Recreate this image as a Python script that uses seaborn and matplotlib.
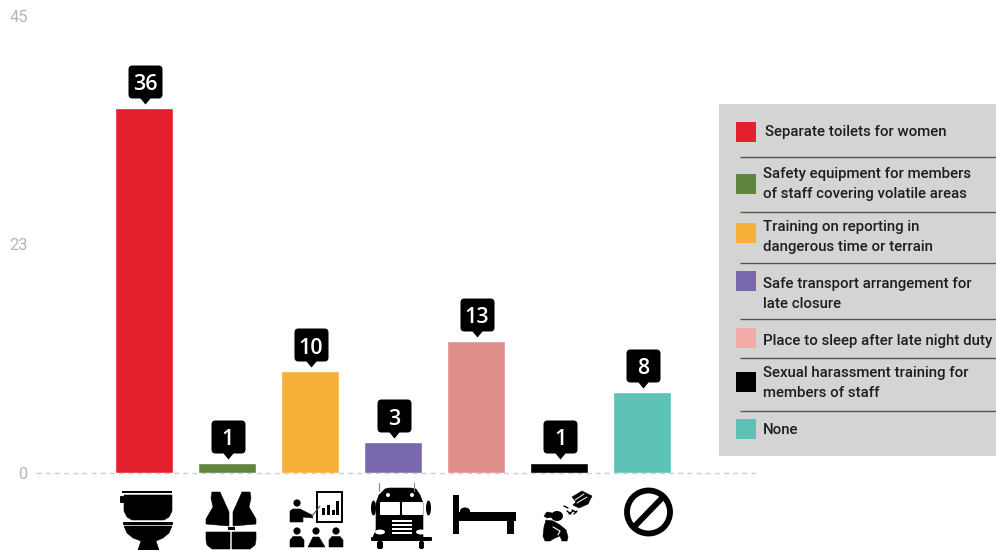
import matplotlib
matplotlib.use("Agg")
import matplotlib.pyplot as plt
import pandas as pd
import seaborn as sns
from matplotlib.patches import Circle, Ellipse, FancyBboxPatch, Polygon, Rectangle
from matplotlib.path import Path

categories = [
    "Separate toilets for women",
    "Safety equipment for members\nof staff covering volatile areas",
    "Training on reporting in\ndangerous time or terrain",
    "Safe transport arrangement for\nlate closure",
    "Place to sleep after late night duty",
    "Sexual harassment training for\nmembers of staff",
    "None",
]
counts = [36, 1, 10, 3, 13, 1, 8]
bar_colors = ["#E2202E", "#5E853E", "#F8AF39", "#7A68AE", "#DF8F8C", "#000000", "#5BC2B5"]
key_colors = ["#E2202E", "#5E853E", "#F8AF39", "#7A68AE", "#F2ABA9", "#000000", "#5BC2B5"]
y_ticks = [0, 22.5, 45]
y_tick_labels = ["0", "23", "45"]

sns.set_theme(style="white")
plt.rcParams["font.family"] = ["Roboto", "DejaVu Sans"]

W, H = 996, 550
fig = plt.figure(figsize=(W / 100, H / 100), dpi=100, facecolor="white")
ax = fig.add_axes([36 / W, 1 - 472.7 / H, (760 - 36) / W, (472.7 - 16.2) / H])

df = pd.DataFrame({"category": categories, "count": counts})
sns.barplot(data=df, x="category", y="count", hue="category", palette=bar_colors,
            width=0.705, saturation=1, legend=False, dodge=False, ax=ax, zorder=3)

ax.set_xlim(-1.301, 7.42)
ax.set_ylim(0, 45)
ax.set_xlabel("")
ax.set_ylabel("")
ax.set_xticks([])
ax.set_yticks(y_ticks, y_tick_labels)
ax.tick_params(axis="y", length=0, pad=6, labelsize=11.8, labelcolor="#B4B4B4")
for spine in ax.spines.values():
    spine.set_visible(False)
ax.axhline(0, color="#CFCFCF", lw=1.0, dashes=(3.6, 3), zorder=1, clip_on=False)

# Value callouts: a rounded black tag with a small pointer, anchored on each bar top
r = 4
tag = Path(
    [(1, 4), (-4, 10), (-16 + r, 10), (-16, 10), (-16, 10 + r), (-16, 43 - r), (-16, 43),
     (-16 + r, 43), (18 - r, 43), (18, 43), (18, 43 - r), (18, 10 + r), (18, 10),
     (18 - r, 10), (6, 10), (1, 4)],
    [Path.MOVETO, Path.LINETO, Path.LINETO, Path.CURVE3, Path.CURVE3, Path.LINETO, Path.CURVE3,
     Path.CURVE3, Path.LINETO, Path.CURVE3, Path.CURVE3, Path.LINETO, Path.CURVE3,
     Path.CURVE3, Path.LINETO, Path.CLOSEPOLY],
)
for i, v in enumerate(counts):
    ax.plot(i, v, marker=tag, markersize=2 * 43 * 0.72, color="black", mew=0,
            ls="none", zorder=4, clip_on=False)
    ax.annotate(str(v), (i, v), xytext=(0.7, 16.5), textcoords="offset points",
                ha="center", va="center", color="white", fontsize=15.5,
                family=["Open Sans", "DejaVu Sans"], fontweight="semibold", zorder=5)

# Overlay in figure pixels for the key panel and the pictograms
ov = fig.add_axes([0, 0, 1, 1], facecolor="none")
ov.set_xlim(0, W)
ov.set_ylim(H, 0)
ov.axis("off")

# Key panel
ov.add_patch(Rectangle((719, 104), 277, 352, fc="#D4D4D4", ec="none"))
swatch_tops = [122, 174, 223, 271, 328, 372, 419]
text_centers = [132, 184, 237, 294, 340.5, 383, 430]
text_left = [765, 763, 763, 763, 763, 763, 763]
for c, top, cy, x, label in zip(key_colors, swatch_tops, text_centers, text_left, categories):
    ov.add_patch(Rectangle((736, top), 20, 20, fc=c, ec="none"))
    ov.text(x, cy, label, ha="left", va="center", fontsize=10.85, fontweight="medium",
            color="#1E1E1E", linespacing=1.58)
for y in [157, 212, 263, 319, 358, 411]:
    ov.plot([740, 996], [y, y], color="#555555", lw=1.0, solid_capstyle="butt")


def poly(pts, color="black"):
    ov.add_patch(Polygon(pts, closed=True, fc=color, ec=color, lw=0.4))


def rrect(x0, y0, x1, y1, rad=2.0, color="black"):
    ov.add_patch(FancyBboxPatch((x0 + rad, y0 + rad), x1 - x0 - 2 * rad, y1 - y0 - 2 * rad,
                                boxstyle=f"round,pad={rad}", fc=color, ec="none"))


def dot(x, y, rad, color="black"):
    ov.add_patch(Circle((x, y), rad, fc=color, ec="none"))


# Toilet
rrect(122, 491, 172, 493, 0.5)
rrect(120, 496, 124, 503, 1)
poly([(124, 495), (172, 495), (172, 511), (169, 517), (164, 520), (132, 520), (127, 517), (124, 511)])
rrect(123, 522, 173, 525, 1)
poly([(124, 526), (172, 526), (169, 533), (163, 538), (156, 541), (159, 550), (138, 550), (141, 541),
      (133, 538), (127, 533)])

# Life vest
for sign in (1, -1):
    def mx(x):
        return 231 + sign * (x - 231)
    poly([(mx(212), 492), (mx(220), 492), (mx(229), 512), (mx(229), 526), (mx(206), 524), (mx(206), 519),
          (mx(213), 507), (mx(211), 498)])
    poly([(mx(206), 532), (mx(230), 532), (mx(230), 549), (mx(212), 549), (mx(207), 545), (mx(206), 540)])
ov.add_patch(Rectangle((228, 527), 7, 2.5, fc="black", ec="none"))

# Presenter and audience
ov.add_patch(Rectangle((317, 492), 25, 30, fc="white", ec="black", lw=1.4))
for x0, top in [(322, 508), (327, 505), (332, 510), (336, 501)]:
    ov.add_patch(Rectangle((x0, top), 3.4, 515 - top, fc="black", ec="none"))
dot(297, 503, 3.6)
poly([(290, 522), (290, 511), (293, 509), (300, 509), (312, 515), (313, 518), (303, 517), (303, 522)])
ov.plot([312, 320], [516, 506], color="#555555", lw=0.8)
for hx in (297, 316, 336):
    dot(hx, 531, 3.6)
poly([(290, 547), (290, 540), (293, 536.5), (301, 536.5), (304, 540), (304, 547)])
poly([(308, 547), (313, 537), (319, 537), (325, 547)])
poly([(329, 547), (329, 540), (332, 536.5), (340, 536.5), (343, 540), (343, 547)])

# School bus
for ax_x in (379, 414):
    ov.plot([ax_x, ax_x], [483, 491], color="#888888", lw=0.8)
poly([(385, 489), (389, 488), (411, 488), (416, 489), (420, 495), (423, 503), (423, 537), (373, 537),
      (376, 530), (376, 503), (379, 495)])
ov.add_patch(Ellipse((373.5, 508), 5, 15, fc="black", ec="none"))
ov.add_patch(Ellipse((428.5, 508), 5, 15, fc="black", ec="none"))
rrect(380, 502, 400, 515, 1, "white")
rrect(402, 502, 423, 515, 1, "white")
dot(388, 495, 2, "white")
dot(412, 495, 2, "white")
for y in (520, 524, 528, 532):
    ov.add_patch(Rectangle((392, y), 20, 2.2, fc="white", ec="none"))
ov.add_patch(Ellipse((380, 532), 10, 5, fc="white", ec="none"))
ov.add_patch(Ellipse((421, 532), 10, 5, fc="white", ec="none"))
rrect(371, 537, 432, 541, 1)
rrect(377, 541, 383, 549, 2)
rrect(419, 541, 424, 549, 2)

# Bed
ov.add_patch(Rectangle((453, 495), 6, 39, fc="black", ec="none"))
ov.add_patch(Rectangle((459, 512), 57, 9, fc="black", ec="none"))
ov.add_patch(Rectangle((507, 521), 7, 13, fc="black", ec="none"))
ov.add_patch(Ellipse((465, 511), 10, 7, fc="black", ec="none"))

# Crouching figure under a reaching hand
ov.add_patch(Ellipse((557, 516), 12, 10, fc="black", ec="none"))
poly([(552, 513), (547, 512), (544, 516), (547, 518), (552, 517)])
poly([(546, 520), (553, 521), (560, 525), (566, 530), (568, 537), (567, 541), (562, 541), (560, 536),
      (555, 538), (550, 541), (545, 541), (543, 536), (544, 527)])
ov.plot([553, 560, 558], [527, 531, 535], color="white", lw=0.8)
poly([(572, 497), (582, 491), (592, 496), (588, 504), (579, 508), (573, 505), (576, 502)])
ov.plot([577, 587], [503, 497], color="white", lw=0.7)
ov.plot([575, 584], [500, 494], color="white", lw=0.7)
for (x0, y0), (x1, y1) in [((564, 506), (568, 508)), ((567, 511), (571, 514)), ((572, 510), (576, 512)),
                           ((569, 514), (573, 511)), ((574, 514), (577, 511))]:
    ov.plot([x0, x1], [y0, y1], color="black", lw=1.0)

# "None" prohibition sign
ov.add_patch(Circle((648.5, 512), 21.5, fc="none", ec="black", lw=4.2))
ov.plot([663, 634], [497, 527], color="black", lw=4.2, solid_capstyle="butt")

fig.savefig("out.png", dpi=100)
